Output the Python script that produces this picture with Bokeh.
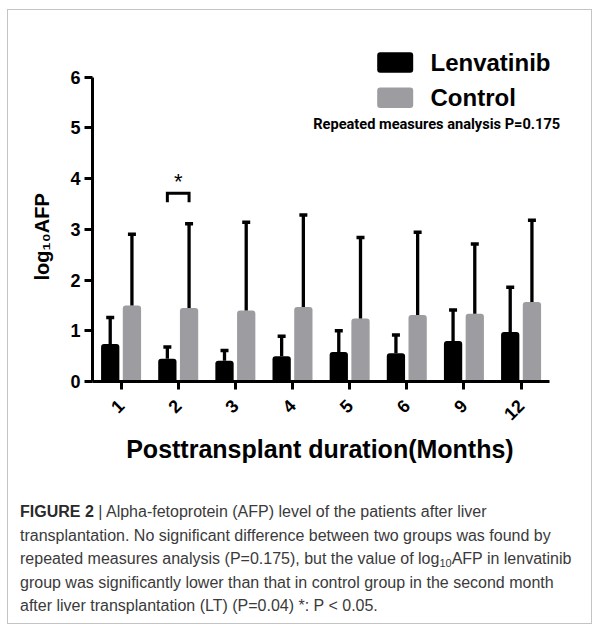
import math
from bokeh.plotting import figure
from bokeh.layouts import column
from bokeh.models import ColumnDataSource, Range1d, FixedTicker, Label, Title, Div
from bokeh.embed import file_html
from bokeh.resources import INLINE

# ---------------- data ----------------
months = ["1", "2", "3", "4", "5", "6", "9", "12"]
lenvatinib_mean = [0.74, 0.45, 0.41, 0.50, 0.58, 0.555, 0.80, 0.975]
lenvatinib_sd = [0.52, 0.23, 0.20, 0.39, 0.42, 0.36, 0.61, 0.88]
control_mean = [1.50, 1.45, 1.40, 1.47, 1.24, 1.31, 1.335, 1.565]
control_sd = [1.40, 1.66, 1.74, 1.81, 1.60, 1.63, 1.375, 1.615]
y_ticks = [0, 1, 2, 3, 4, 5, 6]
series_names = ["Lenvatinib", "Control"]
sig_month = "2"
stat_note = "Repeated measures analysis P=0.175"
x_title = "Posttransplant duration(Months)"
y_title = "log\u2081\u2080AFP"
caption_bold = "FIGURE 2"
SUB10 = '<span style="font-size:11px; line-height:0; position:relative; top:3px">10</span>'
caption_lines = [
    "| Alpha-fetoprotein (AFP) level of the patients after liver",
    "transplantation. No significant difference between two groups was found by",
    "repeated measures analysis (P=0.175), but the value of log" + SUB10 + "AFP in lenvatinib",
    "group was significantly lower than that in control group in the second month",
    "after liver transplantation (LT) (P=0.04) *: P &lt; 0.05.",
]

# ---------------- layout ----------------
W = 583
H1, H2 = 470, 143
FL, FR, FT, FB = 84, 19, 31, 99
X_END = 8.4
Y_TOP = 6.7
PX, PY = 8, 10          # page position of the canvas
X0 = PX + FL
YB = PY + H1 - FB
UX = (W - FL - FR) / X_END
UY = (H1 - FT - FB) / Y_TOP


def ux(px):
    return (px - X0) / UX


def vy(py):
    return (YB - py) / UY


BLACK = "#000000"
GRAY = "#9d9da1"
FONT = "Liberation Sans"
OFF = 0.19
BW = 0.32

centers = [i + 0.5 for i in range(len(months))]

p = figure(width=W, height=H1,
           x_range=Range1d(0, X_END),
           y_range=Range1d(0, Y_TOP),
           output_backend="svg", toolbar_location=None,
           min_border_left=FL, min_border_right=FR,
           min_border_top=FT, min_border_bottom=FB)
p.outline_line_color = None
p.xgrid.visible = False
p.ygrid.visible = False
p.background_fill_color = "white"
p.border_fill_color = "white"

src = ColumnDataSource(dict(
    month=months,
    xl=[c - OFF for c in centers],
    xr=[c + OFF for c in centers],
    len=lenvatinib_mean,
    len_top=[m + s for m, s in zip(lenvatinib_mean, lenvatinib_sd)],
    ctl=control_mean,
    ctl_top=[m + s for m, s in zip(control_mean, control_sd)],
))

p.vbar(x="xl", top="len", bottom=0, width=BW, source=src, fill_color=BLACK,
       line_color=None, border_radius=(3, 3, 0, 0))
p.vbar(x="xr", top="ctl", bottom=0, width=BW, source=src, fill_color=GRAY,
       line_color=None, border_radius=(3, 3, 0, 0))

for xx, y0, y1 in [("xl", "len", "len_top"), ("xr", "ctl", "ctl_top")]:
    p.segment(x0=xx, y0=y0, x1=xx, y1=y1, source=src, line_color=BLACK, line_width=3.3)
    p.rect(x=xx, y=y1, width=8, height=3.5, width_units="screen", height_units="screen",
           source=src, fill_color=BLACK, line_color=None)

# significance bracket
ic = centers[months.index(sig_month)]
p.line(x=[ic - OFF, ic - OFF, ic + OFF, ic + OFF], y=[vy(201.7), vy(192.7), vy(192.7), vy(201.7)],
       line_color=BLACK, line_width=3, line_join="miter")
p.add_layout(Label(x=ic, y=vy(180.6), text="*", text_align="center", text_baseline="alphabetic",
                   text_font=FONT, text_font_size="22px", text_color=BLACK))

# legend
for name, col, cy in [(series_names[0], BLACK, 62.0), (series_names[1], GRAY, 97.3)]:
    p.quad(left=[ux(376.7)], right=[ux(412.7)], top=[vy(cy - 10.3)], bottom=[vy(cy + 10.3)],
           fill_color=col, line_color=None, border_radius=3)
    p.add_layout(Label(x=ux(430), y=vy(cy), text=name, text_align="left", text_baseline="middle",
                       text_font=FONT, text_font_style="bold", text_font_size="24px",
                       text_color=BLACK))

p.add_layout(Label(x=ux(312.7), y=vy(123), text=stat_note, text_align="left",
                   text_baseline="middle", text_font="Roboto", text_font_style="bold",
                   text_font_size="14.6px", text_color=BLACK))

# axes
p.xaxis.bounds = (0, len(months))
p.xaxis.ticker = FixedTicker(ticks=centers)
p.xaxis.major_label_overrides = {c: m for c, m in zip(centers, months)}
p.xaxis.minor_tick_line_color = None
p.yaxis.bounds = (0, 6)
p.yaxis.ticker = FixedTicker(ticks=y_ticks)
p.yaxis.minor_tick_line_color = None
for ax in (p.xaxis, p.yaxis):
    ax.axis_line_width = 3
    ax.axis_line_color = BLACK
    ax.major_tick_line_width = 3
    ax.major_tick_line_color = BLACK
    ax.major_tick_in = 0
    ax.major_tick_out = 8
    ax.major_label_text_font = FONT
    ax.major_label_text_font_style = "bold"
    ax.major_label_text_font_size = "18px"
    ax.major_label_text_color = BLACK
p.yaxis.major_label_standoff = 4
p.xaxis.major_label_standoff = 13
p.xaxis.major_label_orientation = math.pi / 4

p.add_layout(Title(text=x_title, align="left", offset=33.7, standoff=9,
                   text_font=FONT, text_font_style="bold", text_font_size="25px",
                   text_color=BLACK), "below")
p.add_layout(Title(text=y_title, align="left", offset=101, standoff=30,
                   text_font=FONT, text_font_style="bold", text_font_size="20px",
                   text_color=BLACK), "left")

# caption
html = ('<div style="line-height:23.5px; white-space:nowrap; '
        'font-family:\'Liberation Sans\'; font-size:16px; color:#3a3a3a;">'
        '<b style="color:#2a2a2a">' + caption_bold + '</b> ' + '<br>'.join(caption_lines) +
        '</div>')
CAP_TOP, CAP_LEFT = 20, 12
cap = Div(text=html, width=W - CAP_LEFT, height=H2 - CAP_TOP, margin=(CAP_TOP, 0, 0, CAP_LEFT))

layout = column(p, cap, spacing=0, margin=(9, 0, 0, 7),
                styles={"border": "1px solid #c4c4c4", "background": "white"})

open("out.html", "w").write(file_html(layout, INLINE))
